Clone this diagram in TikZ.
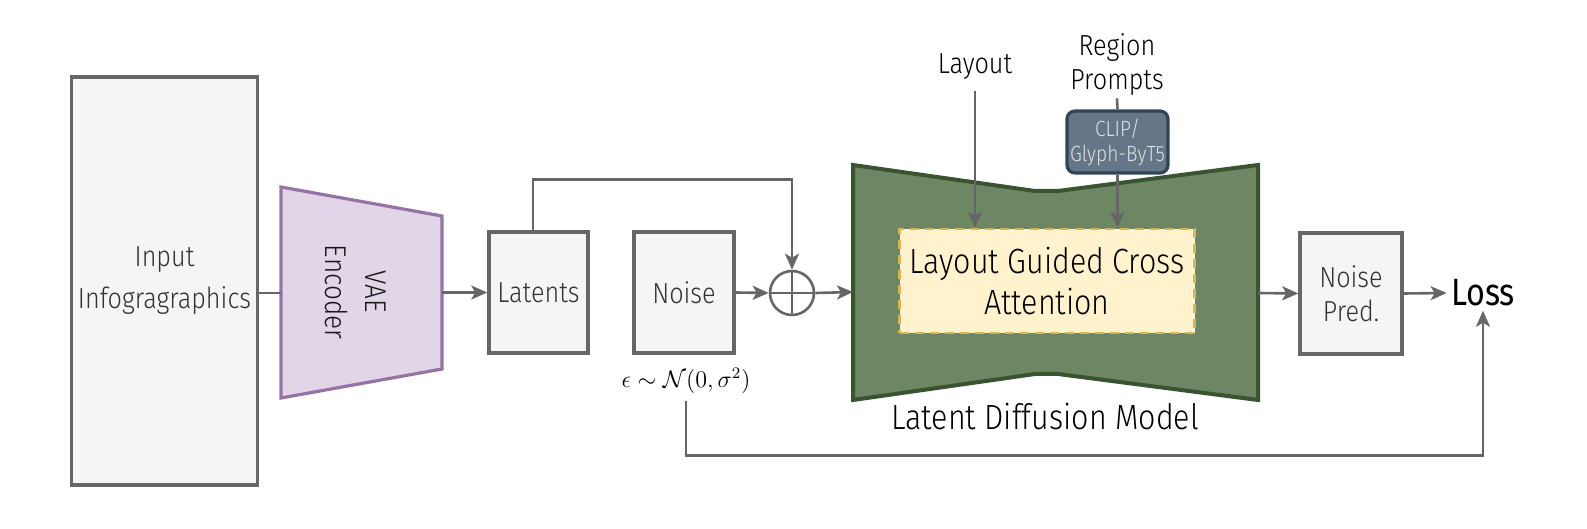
\documentclass[tikz,border=0pt]{standalone}
\usepackage{fontspec}
\setmainfont{Fira Sans}[UprightFont={* Light},FakeStretch=0.87]
\newfontfamily\lossfont{Fira Sans}[FakeStretch=0.85]
\usetikzlibrary{arrows.meta}
\definecolor{linegray}{HTML}{666666}
\definecolor{boxgray}{HTML}{F5F5F5}
\definecolor{textgray}{HTML}{333333}
\definecolor{vaefill}{HTML}{E1D5E7}
\definecolor{vaedraw}{HTML}{9673A6}
\definecolor{ldmfill}{HTML}{6D8764}
\definecolor{ldmdraw}{HTML}{3A5431}
\definecolor{attnfill}{HTML}{FFF2CC}
\definecolor{attndraw}{HTML}{D6B656}
\definecolor{clipfill}{HTML}{647687}
\definecolor{clipdraw}{HTML}{314354}
\tikzset{
  box/.style={draw=linegray, fill=boxgray, line width=1.75pt, text=textgray,
    align=center, font=\fontsize{14.5}{17}\selectfont},
  arr/.style={draw=linegray, line width=1.3pt, -{Stealth[length=8pt,width=7pt,inset=2pt]}},
  plain/.style={draw=linegray, line width=1.3pt},
  lbl/.style={align=center, font=\fontsize{14.5}{17}\selectfont}
}
\begin{document}
\begin{tikzpicture}[x=0.5pt,y=-0.5pt]
\useasboundingbox (0,0) rectangle (1587,529);

\draw [vaedraw, fill=vaefill, line width=1.6pt] (281,187)--(442,216)--(442,369)--(281,398)--cycle;
\draw [ldmdraw, fill=ldmfill, line width=2pt] (853,165)--(1035,191)--(1058,191)--(1258,165)
  --(1258,400)--(1058,374)--(1035,374)--(853,400)--cycle;
\coordinate (vaeW) at (281,293);
\coordinate (vaeE) at (442,292.5);
\coordinate (ldmW) at (853,292);
\coordinate (ldmE) at (1258,293);

\node[box, minimum width=91.5pt, minimum height=204pt, font=\fontsize{14.5}{21}\selectfont] (inp) at (164.5,281) {\raisebox{-4pt}{Input}\\\raisebox{-4pt}{Infogragraphics}};
\node[lbl, rotate=-90, text=black!90, font=\fontsize{15}{20}\selectfont] (vae) at (356,292) {VAE\\Encoder};
\node[box, minimum width=49.5pt, minimum height=60.5pt] (lat) at (538.5,292.5) {Latents};
\node[box, minimum width=50pt, minimum height=60.5pt] (noise) at (684,292.5) {Noise};
\node[font=\fontsize{12}{14}\selectfont] (eps) at (686,381) {$\epsilon\sim\mathcal{N}(0,\sigma^2)$};
\node[draw=linegray, line width=1.3pt, circle, minimum size=22pt, inner sep=0pt,
  path picture={\draw[linegray, line width=1.3pt]
    (path picture bounding box.north) -- (path picture bounding box.south)
    (path picture bounding box.west) -- (path picture bounding box.east);}] (add) at (792,293) {};
\node[draw=attndraw, fill=attnfill, line width=1.3pt, dash pattern=on 4.5pt off 3pt,
  minimum width=147.5pt, minimum height=52pt, align=center,
  font=\fontsize{17.5}{20.5}\selectfont] (attn) at (1047,281) {Layout Guided Cross\\Attention};
\node[lbl] (lay) at (975,67) {Layout};
\node[lbl, inner sep=1pt] (reg) at (1117,65) {Region\\Prompts};
\node[draw=clipdraw, fill=clipfill, line width=1.6pt, rounded corners=4pt,
  minimum width=50.5pt, minimum height=31pt, inner sep=1pt, align=center,
  text=white!88!black, font=\fontsize{11}{12.5}\selectfont] (clip) at (1117.5,142) {CLIP/\\Glyph-ByT5};
\node[font=\fontsize{17.5}{20}\selectfont] (ldm) at (1045,417) {Latent Diffusion Model};
\node[box, minimum width=51pt, minimum height=60.5pt] (pred) at (1351,293.5) {Noise\\Pred.};
\node[font=\lossfont\fontsize{19}{21}\selectfont, inner sep=2pt] (loss) at (1483,293) {Loss};

\draw [plain] (inp.east |- vaeW) -- (vaeW);
\draw [arr] (vaeE) -- (lat.west);
\draw [arr] ([xshift=-2.75pt]lat.north) -- ++(0,-51) -| (add.north);
\draw [arr] (noise.east) -- (add.west);
\draw [arr] (add.east) -- (ldmW);
\draw [arr] ([yshift=-2pt]lay.south) -- (lay.south |- attn.north);
\draw [plain] (reg.south) -- (clip.north);
\draw [arr] (clip.south) -- (clip.south |- attn.north);
\draw [arr] (ldmE) -- (pred.west);
\draw [arr] (pred.east) -- (loss.west);
\draw [arr] (eps.south) -- ++(0,55) -| (loss.south);

\end{tikzpicture}
\end{document}
